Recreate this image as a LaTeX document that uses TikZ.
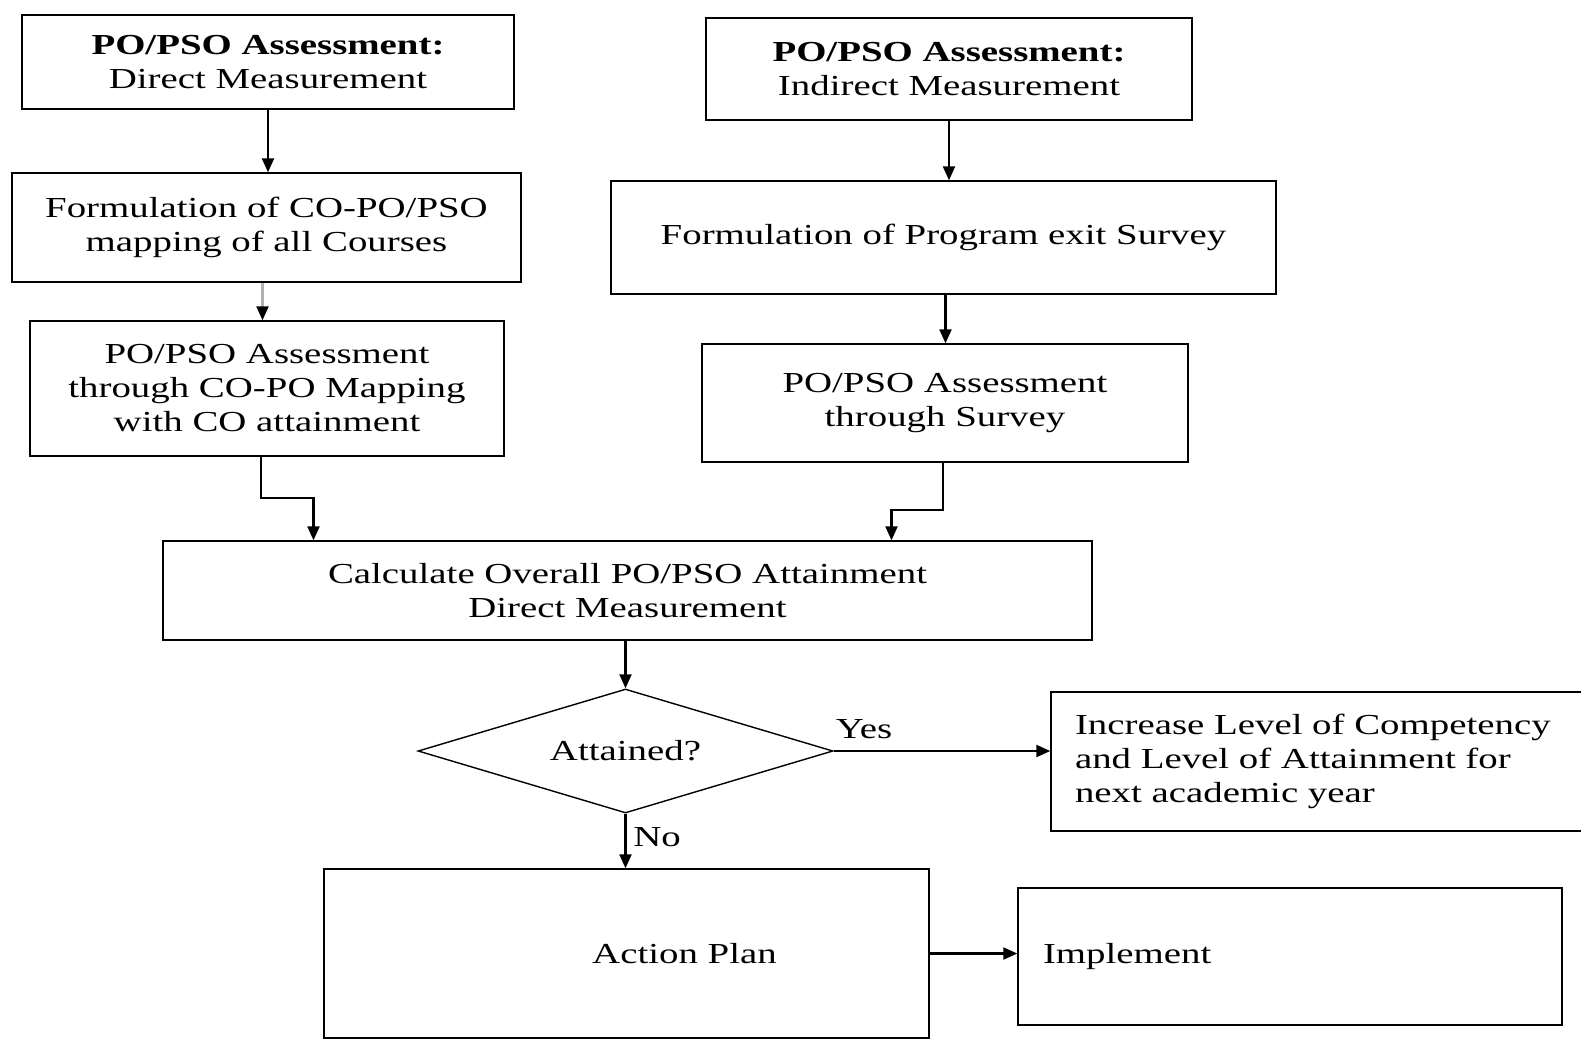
\documentclass[tikz,border=0pt]{standalone}
\usepackage{fontspec}
\setmainfont{Liberation Serif}[FakeStretch=1.34]
\usetikzlibrary{shapes.geometric,arrows.meta}
\tikzset{
  procbox/.style={rectangle,draw,line width=0.7pt,inner sep=0pt,align=center},
  decide/.style={diamond,draw,line width=0.7pt,inner sep=0pt,aspect=3.3},
  flowarrow/.style={line width=1.1pt,-{Triangle[length=7pt,width=6pt]}},
  greyarrow/.style={flowarrow,draw=black!30,-{Triangle[length=7pt,width=6pt,color=black]}}
}

\begin{document}
\begin{tikzpicture}[x=0.5pt,y=-0.5pt,every node/.style={font=\fontsize{14.5pt}{17pt}\selectfont}]
  \useasboundingbox (0,0) rectangle (1581,1041);
  \clip (0,0) rectangle (1581,1041);

  % direct branch
  \node[procbox,minimum width=246pt,minimum height=47pt] (direct) at (268,62)
    {\textbf{PO/PSO Assessment:}\\Direct Measurement};
  \node[procbox,minimum width=254.5pt,minimum height=54.5pt] (mapform) at (266.5,227.5)
    {Formulation of CO-PO/PSO\\mapping of all Courses};
  \node[procbox,minimum width=237pt,minimum height=67.5pt] (mapassess) at (267,388.5)
    {PO/PSO Assessment\\through CO-PO Mapping\\with CO attainment};

  % indirect branch
  \node[procbox,minimum width=243pt,minimum height=51pt] (indirect) at (949,69)
    {\textbf{PO/PSO Assessment:}\\Indirect Measurement};
  \node[procbox,minimum width=332.5pt,minimum height=56.5pt] (surveyform) at (943.5,237.5)
    {Formulation of Program exit Survey};
  \node[procbox,minimum width=243pt,minimum height=59pt] (surveyassess) at (945,403)
    {PO/PSO Assessment\\through Survey};

  % merge and decision
  \node[procbox,minimum width=464.5pt,minimum height=49.5pt] (overall) at (627.5,590.5)
    {Calculate Overall PO/PSO Attainment\\Direct Measurement};
  \node[decide,minimum width=207.5pt,minimum height=62pt] (attained) at (625.5,751) {Attained?};
  \node[procbox,minimum width=284.5pt,minimum height=69.5pt,text width=260.5pt,align=left] (raise) at (1335.5,761.5)
    {Increase Level of Competency\\and Level of Attainment for\\next academic year};
  \node[procbox,minimum width=302.5pt,minimum height=84.5pt,label={[xshift=29pt]center:Action Plan}] (action) at (626.5,953.5) {};
  \node[procbox,minimum width=272pt,minimum height=68.5pt,text width=247pt,align=left] (implement) at (1290,956.5)
    {Implement};

  % connectors
  \draw[flowarrow] (direct.south) -- (direct.south |- mapform.north);
  \draw[greyarrow] ([xshift=-2pt]mapform.south) -- ([xshift=-2pt]mapform.south |- mapassess.north);
  \draw[flowarrow] (indirect.south) -- (indirect.south |- surveyform.north);
  \draw[flowarrow] ([xshift=1pt]surveyform.south) -- ([xshift=1pt]surveyform.south |- surveyassess.north);
  \draw[flowarrow] ([xshift=-3pt]mapassess.south) -- ++(0,41) -| ([xshift=-157pt]overall.north);
  \draw[flowarrow] ([xshift=-1pt]surveyassess.south) -- ++(0,47) -| ([xshift=132pt]overall.north);
  \draw[flowarrow] (overall.south -| attained.north) -- (attained.north);
  \draw[flowarrow] (attained.east) -- node[pos=0.14,above,yshift=2pt] {Yes} (attained.east -| raise.west);
  \draw[flowarrow] (attained.south) -- node[pos=0.43,right] {No} (attained.south |- action.north);
  \draw[flowarrow] (action.east) -- (action.east -| implement.west);
\end{tikzpicture}
\end{document}
